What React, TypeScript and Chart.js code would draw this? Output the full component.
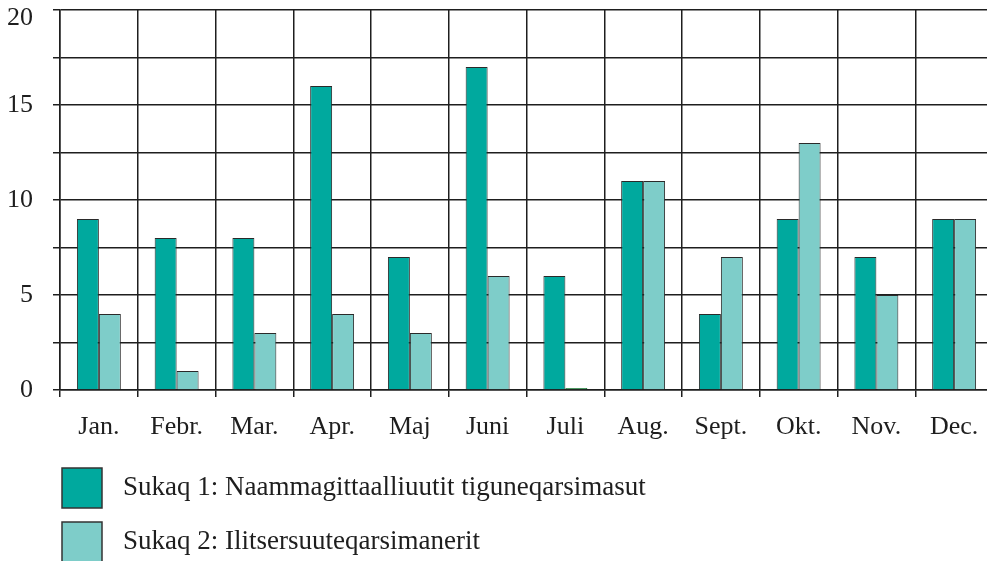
import React, { useEffect, useRef } from "react";
import { Chart, registerables } from "chart.js";

Chart.register(...registerables);

const months = ["Jan.", "Febr.", "Mar.", "Apr.", "Maj", "Juni", "Juli", "Aug.", "Sept.", "Okt.", "Nov.", "Dec."];
const series1Label = "Sukaq 1: Naammagittaalliuutit tiguneqarsimasut";
const series2Label = "Sukaq 2: Ilitsersuuteqarsimanerit";
const series1 = [9, 8, 8, 16, 7, 17, 6, 11, 4, 9, 7, 9];
const series2 = [4, 1, 3, 4, 3, 6, 0.1, 11, 7, 13, 5, 9];
const yTickLabels = [0, 5, 10, 15, 20];

const DARK = "#00A99E";
const LIGHT = "#7ECDC9";
const INK = "#1e1e1e";
const FONT = "'Liberation Serif', 'Times New Roman', serif";

const legendPlugin = {
  id: "sideLegend",
  afterDraw(chart: any) {
    const ctx = chart.ctx;
    ctx.save();
    chart.data.datasets.forEach((ds: any, i: number) => {
      const y = 468 + i * 54;
      ctx.fillStyle = ds.legendColor;
      ctx.fillRect(62, y, 40, 40);
      ctx.strokeStyle = "#333";
      ctx.lineWidth = 1.5;
      ctx.strokeRect(62, y, 40, 40);
      ctx.fillStyle = INK;
      ctx.font = `27px ${FONT}`;
      ctx.textBaseline = "middle";
      ctx.textAlign = "left";
      ctx.fillText(ds.label, 123, y + 20);
    });
    ctx.restore();
  },
};

export default function App() {
  const ref = useRef<HTMLCanvasElement>(null);
  useEffect(() => {
    document.body.style.margin = "0";
    document.body.style.overflow = "hidden";
    const maxLabel = yTickLabels[yTickLabels.length - 1];
    const chart = new Chart(ref.current!, {
      type: "bar",
      data: {
        labels: months,
        datasets: [
          {
            label: series1Label,
            data: series1,
            backgroundColor: DARK,
            borderColor: "#2a2a2a",
            borderWidth: 1,
            categoryPercentage: 0.565,
            barPercentage: 1,
            legendColor: DARK,
          } as any,
          {
            label: series2Label,
            data: series2,
            backgroundColor: series2.map((v) => (v < 0.5 ? "#3a9a5a" : LIGHT)),
            borderColor: series2.map((v) => (v < 0.5 ? "#1f7a3a" : "#2a2a2a")),
            borderWidth: 1,
            categoryPercentage: 0.565,
            barPercentage: 1,
            legendColor: LIGHT,
          } as any,
        ],
      },
      options: {
        animation: false,
        responsive: true,
        maintainAspectRatio: false,
        layout: { padding: { top: 0, right: 0, bottom: 121, left: 0 } },
        plugins: { legend: { display: false }, tooltip: { enabled: false } },
        scales: {
          x: {
            offset: true,
            grid: { offset: true, color: INK, lineWidth: 1.5, drawTicks: true, tickLength: 7 },
            border: { display: true, color: INK, width: 1.5 },
            ticks: { color: INK, font: { family: FONT, size: 26 }, padding: 15, maxRotation: 0 },
            afterFit(scale: any) {
              scale.height = 50;
              scale.paddingLeft = 0;
              scale.paddingRight = 0;
            },
          },
          y: {
            min: 0,
            max: 20,
            beginAtZero: true,
            grid: { color: INK, lineWidth: 1.5, drawTicks: true, tickLength: 7 },
            border: { display: true, color: INK, width: 1.5 },
            ticks: {
              stepSize: 2.5,
              color: INK,
              font: { family: FONT, size: 26, lineHeight: 0.6 },
              padding: 20,
              callback: (v: any) => {
                const n = Number(v);
                if (!yTickLabels.includes(n)) return "";
                return n === maxLabel ? ["", String(n)] : String(n);
              },
            },
            afterFit(scale: any) {
              scale.width = 60;
              scale.paddingTop = 10;
              scale.paddingBottom = 0;
            },
          },
        },
      },
      plugins: [legendPlugin],
    });
    return () => chart.destroy();
  }, []);
  return (
    <div style={{ position: "fixed", left: 0, top: 0, width: 993, height: 561 }}>
      <canvas ref={ref} />
    </div>
  );
}
